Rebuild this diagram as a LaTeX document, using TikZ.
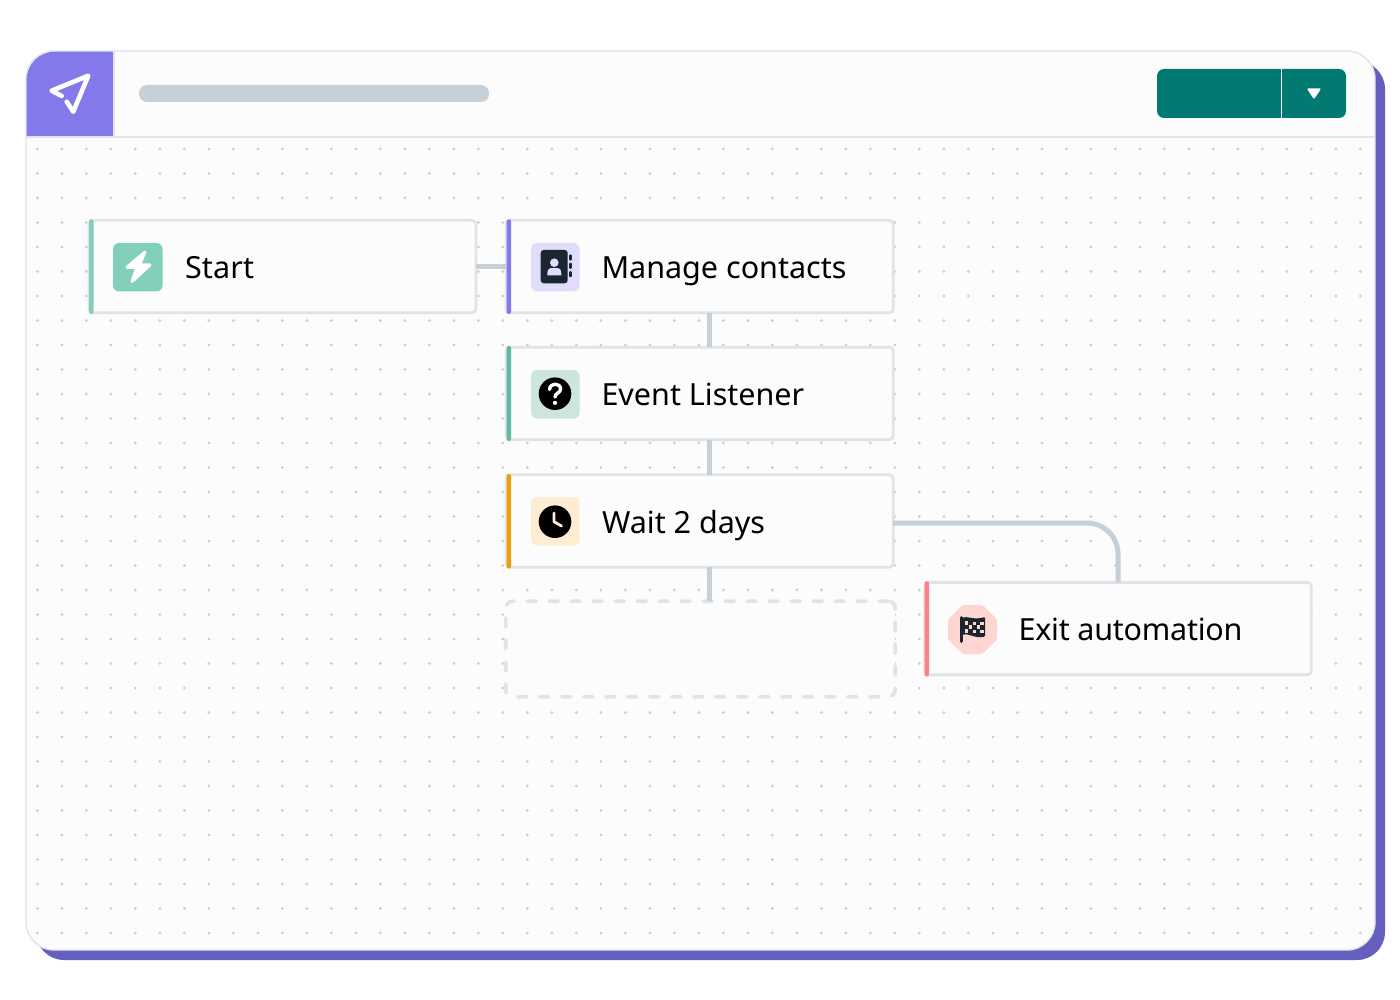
\documentclass[tikz,border=0pt]{standalone}
\usepackage{fontspec}
\setmainfont{Noto Sans}
\usetikzlibrary{calc}
\definecolor{shadowc}{HTML}{6560C0}
\definecolor{cardc}{HTML}{FCFCFD}
\definecolor{edgec}{HTML}{DFE4E8}
\definecolor{linkc}{HTML}{C7D0D6}
\definecolor{purplec}{HTML}{8479EA}
\definecolor{btnc}{HTML}{027A72}
\definecolor{dotc}{HTML}{CCCCCC}
\definecolor{inkc}{HTML}{1B2530}
\definecolor{startc}{HTML}{82D0BC}
\definecolor{managebg}{HTML}{E0DCFB}
\definecolor{eventbg}{HTML}{CDE6DC}
\definecolor{eventc}{HTML}{5BBBA4}
\definecolor{waitbg}{HTML}{FDEDD2}
\definecolor{waitc}{HTML}{E8A010}
\definecolor{exitbg}{HTML}{FFD5D2}
\definecolor{exitc}{HTML}{FF8086}
\tikzset{
  x=1pt,y=-1pt,
  stepbox/.style={draw=edgec,fill=cardc,line width=2.8pt,rounded corners=4pt,minimum width=#1,minimum height=92.5pt,inner sep=0pt,outer sep=0pt},
  stepbox/.default=387pt,
  ghostbox/.style={draw=edgec,fill=cardc,line width=3.8pt,rounded corners=7pt,dash pattern=on 9pt off 13pt,line cap=round,minimum width=389.5pt,minimum height=95.5pt,inner sep=0pt,outer sep=0pt},
  linkline/.style={draw=linkc,line width=5pt},
  steplabel/.style={anchor=base west,inner sep=0pt,outer sep=0pt,text=black,font=\fontsize{30.5}{31}\selectfont},
  iconbg/.style={rounded corners=6pt,draw=none},
}
\newcommand{\stripe}[4]{\fill[#4,rounded corners=2pt] (#1,#2) rectangle (#1+4.5,#3);}
\begin{document}
\begin{tikzpicture}
\useasboundingbox (0,0) rectangle (1400,1000);
\fill[white] (0,0) rectangle (1400,1000);
% card
\fill[shadowc,rounded corners=28pt] (36,61) rectangle (1385,960);
\draw[fill=cardc,draw=edgec,line width=1.4pt,rounded corners=28pt] (26,51) rectangle (1375,950);
% dots
\foreach \i in {0,...,54}{\foreach \j in {0,...,32}{
  \fill[dotc] (37.3+24.5*\i,149+24.5*\j) circle[radius=1.5];
}}
% header
\draw[edgec,line width=1.4pt] (26,137) -- (1375,137);
\begin{scope}
\clip[rounded corners=28pt] (26.7,51.7) rectangle (1375,950);
\fill[purplec] (26,51) rectangle (113.5,136.3);
\end{scope}
\draw[edgec,line width=1.2pt] (114,51) -- (114,137);
\draw[white,line width=4.6pt,line cap=round,line join=round] (61.7,96) -- (51.7,90.7) -- (88.3,75.7) -- (73.3,111.7) -- (66.7,101.7);
\fill[linkc,rounded corners=8pt] (139,85) rectangle (489,102);
\fill[btnc,rounded corners=7pt] (1157,69) rectangle (1346,118);
\draw[cardc,line width=1pt] (1281.5,69) -- (1281.5,118);
\fill[white,draw=white,line width=2pt,line join=round] (1308.5,89.3) -- (1319.5,89.3) -- (1314,97.5) -- cycle;
% steps
\node[stepbox] (start) at (282.5,266.6) {};
\node[stepbox] (manage) at (699.7,266.6) {};
\node[stepbox] (event) at (699.7,393.4) {};
\node[stepbox] (wait) at (699.7,521) {};
\node[ghostbox] (ghost) at (700.4,649) {};
\node[stepbox=386.5pt] (exit) at (1118,628.6) {};
% connectors
\draw[linkline] (start.east) -- (manage.west);
\draw[linkline] ([xshift=10pt]manage.south) -- ([xshift=10pt]event.north);
\draw[linkline] ([xshift=10pt]event.south) -- ([xshift=10pt]wait.north);
\draw[linkline] ([xshift=10pt]wait.south) -- ([xshift=9.3pt]ghost.north);
\draw[linkline,rounded corners=31pt] ([yshift=-2pt]wait.east) -| (exit.north);
% stripes
\stripe{89}{219.3}{314}{startc}
\stripe{506.5}{219.3}{314}{purplec}
\stripe{506.5}{346}{441}{eventc}
\stripe{506.5}{474}{568.5}{waitc}
\stripe{924.5}{581.3}{676.5}{exitc}
% labels
\node[steplabel] (tstart) at (185,278.5) {\addfontfeature{LetterSpace=0.5}Start};
\node[steplabel] (tmanage) at (601.5,278.5) {Manage contacts};
\node[steplabel] (tevent) at (601.5,405.5) {Event Listener};
\node[steplabel] (twait) at (602,533.5) {Wait 2 days};
\node[steplabel] (texit) at (1018.5,640.5) {\addfontfeature{LetterSpace=-0.8}Exit automation};
% start icon
\fill[startc,iconbg] (113,243) rectangle (162.5,291.5);
\fill[white,draw=white,line width=3pt,line join=round] (145,252) -- (127,267.3) -- (137,267.3) -- (132,281.5) -- (150,265) -- (139.5,265) -- cycle;
% manage icon
\fill[managebg,iconbg] (531,243) rectangle (579.5,291.5);
\fill[inkc,rounded corners=3pt] (540.7,250) rectangle (567.7,283.3);
\fill[managebg] (554.3,262.7) circle[radius=4.3];
\fill[managebg] (547.3,275.3) -- (547.3,273.5) .. controls (547.3,267.5) and (551,268) .. (554.3,268) .. controls (557.6,268) and (561.3,267.5) .. (561.3,273.5) -- (561.3,275.3) -- cycle;
\draw[inkc,line width=2.4pt,line cap=round] (570.3,255.5) -- (570.3,259.5) (570.3,263.8) -- (570.3,267.8) (570.3,272.2) -- (570.3,276.2);
% event icon
\fill[eventbg,iconbg] (531,370) rectangle (579.5,418.5);
\fill[black] (555,393.7) circle[radius=16.3];
\draw[white,line width=3.4pt,line cap=round,line join=round] (549.6,389.5) .. controls (549.6,382.5) and (560.6,382.5) .. (560.6,389) .. controls (560.6,393) and (555,393) .. (555,397);
\fill[white] (555,402.8) circle[radius=2.1];
% wait icon
\fill[waitbg,iconbg] (531,497) rectangle (579.5,545.5);
\fill[black] (555,521.7) circle[radius=16.3];
\draw[waitbg,line width=2.8pt,line cap=round,line join=round] (554,513) -- (554,521.7) -- (561.5,526);
% exit icon
\fill[exitbg,rounded corners=1.5pt] (962.5,605) -- (982.5,605) -- (997,619.5) -- (997,639.5) -- (982.5,654) -- (962.5,654) -- (948,639.5) -- (948,619.5) -- cycle;
\fill[inkc,rounded corners=1pt] (961,618) .. controls (968,615.5) and (973,620.5) .. (985,617) -- (985,636.5) .. controls (975,639) and (968,632.5) .. (961,635) -- cycle;
\draw[inkc,line width=3pt,line cap=round] (961.7,617.5) -- (961.7,641.5);
\foreach \cx/\cy in {964.5/621,972.5/621.5,968.5/625,976.5/625,964.5/629,972.5/629.5,980/621.5,980/629.5}{
  \fill[exitbg] (\cx,\cy) rectangle (\cx+3.8,\cy+3.8);
}
\end{tikzpicture}
\end{document}
